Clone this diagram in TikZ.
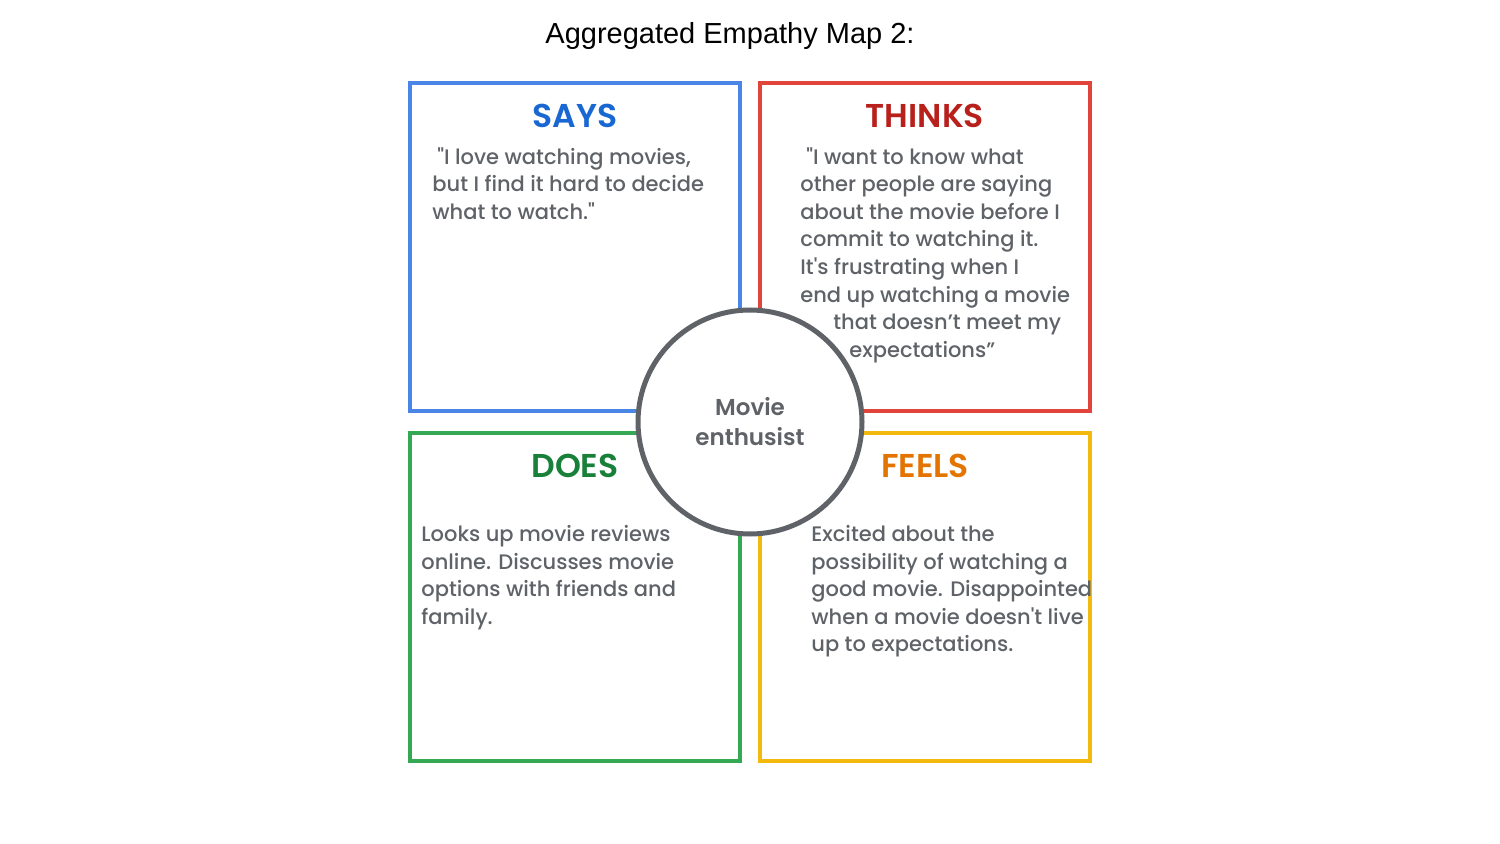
\documentclass[tikz,border=0pt]{standalone}
\usepackage{fontspec}
\setmainfont{Liberation Sans}
\newfontfamily\gsans{Poppins Medium}[BoldFont={Poppins SemiBold}]
\usepackage{tikz}
\usetikzlibrary{positioning}
\definecolor{sayblue}{HTML}{4A86E8}
\definecolor{saytext}{HTML}{1967D2}
\definecolor{thinkred}{HTML}{E0443A}
\definecolor{thinktext}{HTML}{B8201C}
\definecolor{doesgreen}{HTML}{34A853}
\definecolor{doestext}{HTML}{188038}
\definecolor{feelyellow}{HTML}{F4B90E}
\definecolor{feeltext}{HTML}{E37400}
\definecolor{gtext}{HTML}{5F6368}

\begin{document}
\begin{tikzpicture}[
  x=0.5pt, y=-0.5pt,
  quad/.style={rectangle, draw, line width=2pt, minimum width=165pt, minimum height=164pt, inner sep=0pt},
  head/.style={font=\gsans\bfseries\fontsize{16.5}{18}\selectfont},
  body/.style={anchor=north west, align=left, inner sep=0pt, text=gtext, font=\gsans\fontsize{10.5}{13.8}\selectfont},
  persona/.style={circle, draw=gtext, line width=2.5pt, fill=white, minimum size=112pt, inner sep=0pt, align=center, text=gtext, font=\gsans\bfseries\fontsize{11.5}{15}\selectfont}
]
  \useasboundingbox (0,0) rectangle (1500,844);

  % Title
  \node[font=\fontsize{14.5}{16}\selectfont] (title) at (730,36) {Aggregated Empathy Map 2:};

  % Quadrants
  \node[quad, draw=sayblue] (says) at (575,247) {};
  \node[quad, draw=thinkred] (thinks) at (925,247) {};
  \node[quad, draw=doesgreen] (does) at (575,597) {};
  \node[quad, draw=feelyellow] (feels) at (925,597) {};

  % Headings
  \node[head, text=saytext] (saysh) at (575,116) {SAYS};
  \node[head, text=thinktext] (thinksh) at (925,116) {THINKS};
  \node[head, text=doestext] (doesh) at (575,466) {DOES};
  \node[head, text=feeltext] (feelsh) at (925,466) {FEELS};

  % Quotes and notes
  \node[body] (sayst) at (432,147) {\hspace*{2.5pt}"I love watching movies,\\but I find it hard to decide\\what to watch."};
  \node[body] (thinkst) at (800,147) {\hspace*{3pt}"I want to know what\\other people are saying\\about the movie before I\\commit to watching it.\\It's frustrating when I\\end up watching a movie\\\hspace*{16.5pt}that doesn’t meet my\\\hspace*{24.5pt}expectations”};
  \node[body] (doest) at (421,525) {Looks up movie reviews\\online. Discusses movie\\options with friends and\\family.};
  \node[body] (feelst) at (811,525) {Excited about the\\possibility of watching a\\good movie. Disappointed\\when a movie doesn't live\\up to expectations.};

  % Persona in the middle
  \node[persona] (user) at (750,422) {Movie\\enthusist};
\end{tikzpicture}
\end{document}
